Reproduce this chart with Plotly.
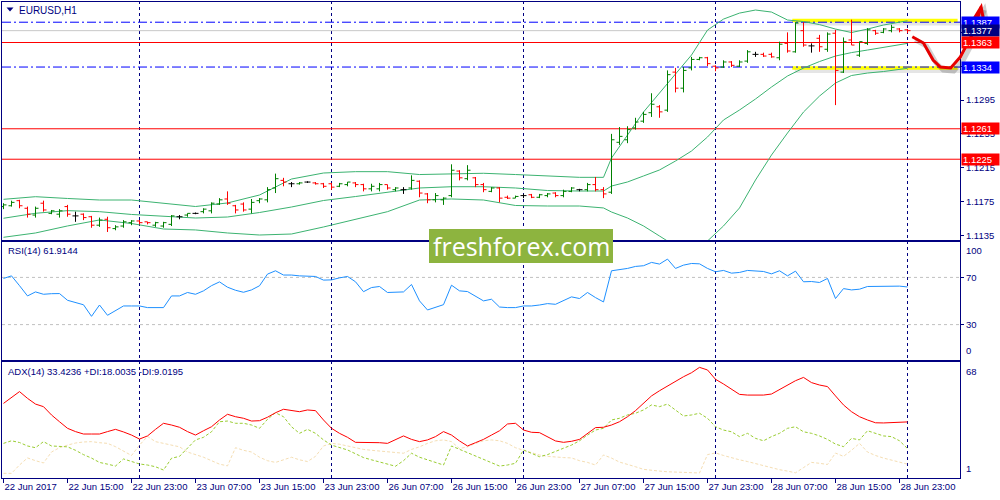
import plotly.graph_objects as go

# EURUSD H1, bar 0 = 22 Jun 2017 07:00 (one bar per hour, weekend skipped)
bar_open = [1.1169, 1.1170, 1.1176, 1.1167, 1.1159, 1.1173, 1.1161, 1.1160, 1.1169, 1.1158,
            1.1160, 1.1157, 1.1147, 1.1154, 1.1143, 1.1146, 1.1150, 1.1152, 1.1151, 1.1147,
            1.1146, 1.1148, 1.1157, 1.1159, 1.1161, 1.1163, 1.1164, 1.1172, 1.1178, 1.1170,
            1.1172, 1.1166, 1.1176, 1.1177, 1.1191, 1.1200, 1.1196, 1.1196, 1.1198, 1.1197,
            1.1196, 1.1196, 1.1193, 1.1195, 1.1197, 1.1195, 1.1190, 1.1190, 1.1195, 1.1189,
            1.1189, 1.1191, 1.1199, 1.1184, 1.1177, 1.1177, 1.1182, 1.1211, 1.1202, 1.1203,
            1.1195, 1.1187, 1.1191, 1.1180, 1.1179, 1.1182, 1.1183, 1.1180, 1.1182, 1.1185,
            1.1182, 1.1187, 1.1189, 1.1189, 1.1195, 1.1189, 1.1186, 1.1245, 1.1248, 1.1262,
            1.1270, 1.1280, 1.1287, 1.1283, 1.1328, 1.1309, 1.1333, 1.1343, 1.1345, 1.1335,
            1.1334, 1.1340, 1.1335, 1.1341, 1.1349, 1.1349, 1.1349, 1.1345, 1.1362, 1.1352,
            1.1377, 1.1359, 1.1368, 1.1355, 1.1374, 1.1328, 1.1366, 1.1348, 1.1362, 1.1377,
            1.1375, 1.1377, 1.1379, 1.1378]
bar_high = [1.1173, 1.1176, 1.1177, 1.1169, 1.1169, 1.1176, 1.1165, 1.1166, 1.1171, 1.1163,
            1.1161, 1.1158, 1.1156, 1.1157, 1.1147, 1.1153, 1.1153, 1.1153, 1.1151, 1.1151,
            1.1151, 1.1159, 1.1159, 1.1161, 1.1162, 1.1167, 1.1174, 1.1179, 1.1187, 1.1171,
            1.1174, 1.1178, 1.1179, 1.1192, 1.1208, 1.1203, 1.1198, 1.1198, 1.1199, 1.1198,
            1.1197, 1.1197, 1.1197, 1.1198, 1.1198, 1.1196, 1.1196, 1.1197, 1.1195, 1.1192,
            1.1192, 1.1206, 1.1200, 1.1185, 1.1185, 1.1180, 1.1219, 1.1212, 1.1218, 1.1204,
            1.1197, 1.1192, 1.1192, 1.1182, 1.1182, 1.1184, 1.1184, 1.1184, 1.1185, 1.1186,
            1.1189, 1.1192, 1.1190, 1.1197, 1.1204, 1.1192, 1.1255, 1.1263, 1.1264, 1.1274,
            1.1281, 1.1303, 1.1289, 1.1330, 1.1333, 1.1334, 1.1346, 1.1346, 1.1346, 1.1336,
            1.1342, 1.1341, 1.1342, 1.1354, 1.1352, 1.1351, 1.1351, 1.1364, 1.1375, 1.1387,
            1.1387, 1.1362, 1.1372, 1.1375, 1.1378, 1.1369, 1.1390, 1.1364, 1.1380, 1.1378,
            1.1380, 1.1384, 1.1380, 1.1379]
bar_low = [1.1166, 1.1169, 1.1167, 1.1156, 1.1156, 1.1163, 1.1160, 1.1156, 1.1157, 1.1151,
           1.1153, 1.1144, 1.1145, 1.1139, 1.1141, 1.1144, 1.1147, 1.1148, 1.1148, 1.1145,
           1.1144, 1.1146, 1.1154, 1.1157, 1.1160, 1.1161, 1.1161, 1.1171, 1.1171, 1.1161,
           1.1163, 1.1161, 1.1173, 1.1174, 1.1185, 1.1193, 1.1192, 1.1195, 1.1197, 1.1195,
           1.1191, 1.1189, 1.1192, 1.1193, 1.1192, 1.1187, 1.1187, 1.1187, 1.1189, 1.1187,
           1.1184, 1.1189, 1.1180, 1.1173, 1.1174, 1.1171, 1.1180, 1.1200, 1.1200, 1.1192,
           1.1186, 1.1186, 1.1174, 1.1178, 1.1179, 1.1179, 1.1179, 1.1179, 1.1180, 1.1180,
           1.1180, 1.1186, 1.1187, 1.1187, 1.1187, 1.1179, 1.1184, 1.1242, 1.1244, 1.1260,
           1.1268, 1.1275, 1.1274, 1.1281, 1.1304, 1.1304, 1.1330, 1.1342, 1.1335, 1.1329,
           1.1333, 1.1334, 1.1334, 1.1339, 1.1346, 1.1346, 1.1345, 1.1342, 1.1351, 1.1351,
           1.1358, 1.1351, 1.1352, 1.1352, 1.1289, 1.1327, 1.1360, 1.1346, 1.1360, 1.1372,
           1.1374, 1.1375, 1.1375, 1.1374]
bar_close = [1.1171, 1.1174, 1.1170, 1.1160, 1.1167, 1.1165, 1.1164, 1.1164, 1.1160, 1.1158,
             1.1156, 1.1147, 1.1153, 1.1144, 1.1145, 1.1151, 1.1152, 1.1150, 1.1150, 1.1150,
             1.1150, 1.1158, 1.1157, 1.1161, 1.1161, 1.1166, 1.1173, 1.1177, 1.1173, 1.1165,
             1.1165, 1.1174, 1.1178, 1.1189, 1.1202, 1.1198, 1.1196, 1.1197, 1.1198, 1.1196,
             1.1193, 1.1192, 1.1196, 1.1198, 1.1195, 1.1190, 1.1193, 1.1195, 1.1191, 1.1191,
             1.1189, 1.1200, 1.1185, 1.1177, 1.1182, 1.1179, 1.1212, 1.1203, 1.1212, 1.1195,
             1.1189, 1.1191, 1.1179, 1.1179, 1.1181, 1.1182, 1.1180, 1.1183, 1.1184, 1.1182,
             1.1187, 1.1191, 1.1189, 1.1195, 1.1189, 1.1184, 1.1248, 1.1252, 1.1260, 1.1269,
             1.1278, 1.1290, 1.1281, 1.1325, 1.1309, 1.1330, 1.1343, 1.1345, 1.1338, 1.1333,
             1.1340, 1.1336, 1.1340, 1.1352, 1.1349, 1.1347, 1.1346, 1.1361, 1.1353, 1.1386,
             1.1360, 1.1359, 1.1358, 1.1373, 1.1330, 1.1364, 1.1360, 1.1364, 1.1378, 1.1374,
             1.1379, 1.1381, 1.1377, 1.1377]

# Bollinger bands (20), read at these bars
bb_x = [0, 4, 8, 12, 16, 20, 24, 28, 32, 36, 40, 44, 48, 52, 56, 60, 64, 68, 72, 75,
        76, 78, 80, 82, 84, 86, 88, 90, 92, 94, 96, 98, 100, 102, 104, 106, 108, 110, 113]
bb_upper = [1.11776, 1.11807, 1.11786, 1.11768, 1.11768, 1.11733, 1.11691, 1.11733, 1.11827, 1.12016,
            1.12087, 1.12103, 1.12103, 1.12069, 1.12075, 1.12084, 1.12069, 1.12052, 1.12036, 1.12036,
            1.12264, 1.12536, 1.12808, 1.13033, 1.13257, 1.13482, 1.13777, 1.13907, 1.13978, 1.14014,
            1.1399, 1.13896, 1.13878, 1.13842, 1.13789, 1.13748, 1.13789, 1.13837, 1.13887]
bb_middle = [1.11552, 1.11611, 1.11642, 1.1163, 1.11597, 1.11573, 1.11555, 1.11567, 1.1162, 1.11685,
             1.11762, 1.11809, 1.11863, 1.1191, 1.11925, 1.11925, 1.1191, 1.1188, 1.11874, 1.11874,
             1.11933, 1.11981, 1.12052, 1.12123, 1.12229, 1.12347, 1.12513, 1.12714, 1.12832, 1.12962,
             1.13104, 1.13234, 1.13328, 1.13405, 1.1347, 1.13511, 1.13541, 1.13571, 1.1362]
bb_lower = [1.11327, 1.11378, 1.11461, 1.11532, 1.1149, 1.11425, 1.11414, 1.11378, 1.11354, 1.11366,
            1.11449, 1.11535, 1.1163, 1.11768, 1.1178, 1.11768, 1.11703, 1.11697, 1.11697, 1.11674,
            1.11626, 1.11555, 1.11461, 1.11342, 1.11224, 1.11177, 1.11283, 1.11461, 1.11674, 1.12004,
            1.123, 1.1256, 1.12808, 1.12997, 1.13151, 1.1324, 1.13269, 1.13287, 1.13325]

rsi = [69.1, 71.3, 63, 54.3, 57.7, 55.7, 56.2, 56.3, 50.6, 48.5,
       46.8, 37, 46.6, 37.9, 42.1, 45.8, 45.8, 45.8, 44.4, 44.4,
       44.4, 54.3, 54.3, 57.2, 55.7, 58.6, 63, 66.2, 61.7, 59.1,
       57.4, 59.4, 62.9, 72.8, 75.6, 72, 72, 71.3, 71.3, 70.8,
       67.7, 67.9, 69.6, 70.8, 66.3, 57.9, 61.4, 62.3, 57.2, 57.2,
       57.7, 64, 50.1, 42.4, 44.9, 46.9, 63.4, 58.6, 58, 54.3,
       50.1, 51.5, 44.9, 44.4, 44.4, 45.8, 45.8, 46.6, 47.8, 47.2,
       50.1, 53.5, 52.1, 57.2, 52.9, 49.2, 75.6, 76.5, 77.6, 79.3,
       79.9, 82.7, 81.3, 85.5, 77.6, 80.4, 81.8, 81.5, 77.6, 74.8,
       75.9, 73.6, 74.2, 75.9, 75.6, 75, 73, 75.6, 71.3, 75.3,
       66.3, 66.5, 65.7, 69.1, 52.1, 60.5, 59.4, 60, 62.3, 62.5,
       62.8, 62.8, 62.6, 61.9]

adx = [44.1, 47.6, 50.9, 47, 43.7, 42.2, 37.4, 33.5, 29.7, 27.8,
       26.4, 26.4, 26.4, 27.8, 29.1, 27.6, 25.8, 23.5, 25.3, 29.1,
       32.6, 31.6, 30.3, 27.8, 25.8, 28.3, 30.6, 34.5, 37.8, 36.4,
       35.5, 33.9, 34.1, 36.1, 38.7, 40.7, 39.9, 39.3, 40.3, 39.9,
       34.5, 29.7, 26.8, 24.5, 21.6, 21.6, 21.6, 21.4, 21, 23,
       25.3, 23.3, 22, 23, 24.9, 27.8, 25.8, 22.4, 19.5, 21.4,
       23.3, 25.8, 28.3, 32.2, 32.6, 28.7, 27.4, 27.2, 24.9, 22.4,
       21.6, 22.2, 23.3, 26.8, 30.1, 30.3, 31.6, 33.5, 36.4, 39.9,
       44.1, 48.4, 51.4, 54.1, 57.2, 59.5, 61.8, 64.9, 63.4, 58,
       55.3, 52.2, 49.3, 48.9, 48.9, 48.9, 49.5, 52.2, 54.7, 57.2,
       59.1, 56.1, 54.7, 53.8, 48.4, 43.2, 39.3, 36.4, 34.5, 32.9,
       32.8, 33.0, 33.2, 33.4]
plus_di = [21, 22.5, 21.5, 19.5, 18.5, 22, 19.5, 19.3, 19, 17,
           14.5, 12.5, 10, 9, 7.9, 12, 10.5, 9.1, 8.5, 7.5,
           5.6, 12.4, 13.5, 18, 23, 24.5, 27.7, 33.5, 33.9, 32.6,
           32.6, 31.6, 29.7, 34.9, 38.7, 36.4, 30.6, 26.8, 29.1, 26.8,
           23, 20, 18.5, 17.2, 15, 12.8, 11.5, 10.4, 9, 7.8,
           11, 15.3, 13, 11.4, 10, 8.5, 19.5, 17.5, 15.8, 13.5,
           11.5, 9.5, 7.9, 8.5, 9.5, 17.2, 15.3, 13.3, 14.5, 16.5,
           18.2, 20, 22.5, 25.8, 28.7, 29.7, 34.5, 35.5, 37.4, 38.4,
           40.3, 43.2, 42.2, 43.7, 40.3, 36.8, 37.4, 38.4, 35.5, 30.6,
           28.7, 27.7, 24.9, 26.8, 23.9, 22.5, 24.9, 26.8, 29.7, 30.6,
           27.7, 26.8, 25.3, 23.3, 20.6, 19.1, 23.9, 23, 28.3, 26.8,
           25.3, 24.9, 22.5, 18.0]
minus_di = [3.7, 3.7, 8.5, 12.6, 11, 9.7, 16, 18.5, 20, 21.2,
            21.8, 22, 21.4, 21, 19.1, 16.5, 14, 20, 25, 22,
            21, 20, 19, 16, 14.5, 13, 11, 9, 8, 18.5,
            17, 16, 13, 11, 10, 11.5, 13, 11.5, 10.5, 13.5,
            19.5, 21, 20.5, 19.5, 18.5, 17.5, 17, 16.5, 16.2, 15.4,
            15.3, 17.5, 19, 21, 22.5, 23, 22, 18, 19, 21,
            22.5, 23, 22.5, 21, 18.5, 17, 15.5, 14.3, 13.5, 13,
            12.8, 12.6, 11, 10, 8.5, 14.3, 12.5, 10.2, 9, 7.5,
            6, 5.3, 5, 4.6, 4.4, 4.2, 4, 3.9, 14.5, 15.5,
            14, 12.6, 11.5, 10.5, 9.3, 7.8, 6.8, 5.8, 5, 4,
            7, 10, 9.5, 8.8, 15.4, 13.5, 17, 21, 16, 14,
            12.5, 11.3, 10, 9.0]

tick_bars = [0, 8, 16, 24, 32, 40, 48, 56, 64, 72, 80, 88, 96, 104, 112]
tick_labels = ['22 Jun 2017', '22 Jun 15:00', '22 Jun 23:00', '23 Jun 07:00', '23 Jun 15:00',
               '23 Jun 23:00', '26 Jun 07:00', '26 Jun 15:00', '26 Jun 23:00', '27 Jun 07:00',
               '27 Jun 15:00', '27 Jun 23:00', '28 Jun 07:00', '28 Jun 15:00', '28 Jun 23:00']
day_starts = [17, 41, 65, 89, 113]

price_ticks = [1.1135, 1.1175, 1.1215, 1.1255, 1.1295, 1.1335, 1.1375]
blue_levels = [1.1387, 1.1334]
red_levels = [1.1363, 1.1261, 1.1225]
bid_level = 1.1377
range_top, range_bottom, range_start = 1.1389, 1.1333, 98.6
# hand drawn forecast arrow (bar, price)
arrow_path = [(113.6, 1.13698), (115.0, 1.13624), (116.2, 1.13423), (117.1, 1.1334),
              (118.4, 1.13328), (119.6, 1.13458), (121.2, 1.13742), (122.2, 1.1405)]
arrow_head = [(120.9, 1.13849), (122.2, 1.1405), (122.6, 1.13849)]

x_range = [-0.1875, 119.5625]
price_range = [1.11295, 1.14109]

NAVY = '#000080'
FONT = 'Liberation Sans'
n = len(bar_close)


def px_x(px):
    return (px - 2) / 958


def px_y(py):
    return (478 - py) / 476


def bar_x(b):
    return (b - x_range[0]) / (x_range[1] - x_range[0])


def bar_lines(idx):
    xs, ys = [], []
    for i in idx:
        xs += [i, i, None, i - 0.375, i, None, i, i + 0.375, None]
        ys += [bar_low[i], bar_high[i], None, bar_open[i], bar_open[i], None,
               bar_close[i], bar_close[i], None]
    return xs, ys


up = [i for i in range(n) if bar_close[i] > bar_open[i]]
down = [i for i in range(n) if bar_close[i] < bar_open[i]]
doji = [i for i in range(n) if bar_close[i] == bar_open[i]]

fig = go.Figure()

for band in (bb_upper, bb_middle, bb_lower):
    fig.add_trace(go.Scatter(x=bb_x, y=band, mode='lines',
                             line=dict(color='#3CB371', width=1), xaxis='x', yaxis='y'))

for idx, col in ((up, '#008000'), (down, '#FF0000'), (doji, '#000000')):
    xs, ys = bar_lines(idx)
    fig.add_trace(go.Scatter(x=xs, y=ys, mode='lines', line=dict(color=col, width=1),
                             xaxis='x', yaxis='y'))

bars = list(range(n))
fig.add_trace(go.Scatter(x=bars, y=rsi, mode='lines', line=dict(color='#1E90FF', width=1),
                         xaxis='x2', yaxis='y2'))
fig.add_trace(go.Scatter(x=bars, y=minus_di, mode='lines',
                         line=dict(color='#F5DEB3', width=1, dash='3px,2px'), xaxis='x3', yaxis='y3'))
fig.add_trace(go.Scatter(x=bars, y=plus_di, mode='lines',
                         line=dict(color='#9ACD32', width=1, dash='3px,2px'), xaxis='x3', yaxis='y3'))
fig.add_trace(go.Scatter(x=bars, y=adx, mode='lines', line=dict(color='#FF0000', width=1),
                         xaxis='x3', yaxis='y3'))

shapes = []
for d in day_starts:
    shapes.append(dict(type='line', xref='x', yref='paper', x0=d, x1=d, y0=0, y1=1,
                       line=dict(color=NAVY, width=1, dash='3px,3px'), layer='below'))
for lv in (30, 70):
    shapes.append(dict(type='line', xref='x2', yref='y2', x0=x_range[0], x1=x_range[1], y0=lv, y1=lv,
                       line=dict(color='#C0C0C0', width=1, dash='3px,3px'), layer='below'))
shapes.append(dict(type='line', xref='x', yref='y', x0=x_range[0], x1=x_range[1],
                   y0=bid_level, y1=bid_level, line=dict(color='#C8C8C8', width=1), layer='below'))
for lv in red_levels:
    shapes.append(dict(type='line', xref='x', yref='y', x0=x_range[0], x1=x_range[1], y0=lv, y1=lv,
                       line=dict(color='#FF0000', width=1), layer='below'))

# yellow range lines with a soft shadow
p_per_px = (price_range[1] - price_range[0]) / 238
for lv in (range_top, range_bottom):
    shapes.append(dict(type='line', xref='x', yref='y', x0=range_start + 0.3, x1=x_range[1],
                       y0=lv - 3 * p_per_px, y1=lv - 3 * p_per_px,
                       line=dict(color='rgba(0,0,0,0.1)', width=4), layer='below'))
    shapes.append(dict(type='line', xref='x', yref='y', x0=range_start, x1=x_range[1] - 0.3, y0=lv, y1=lv,
                       line=dict(color='#FFFF00', width=3.5), layer='below'))
for lv in blue_levels:
    shapes.append(dict(type='line', xref='x', yref='y', x0=x_range[0], x1=x_range[1], y0=lv, y1=lv,
                       line=dict(color='#0000FF', width=1, dash='9px,3px,2px,3px'), layer='below'))


def path_str(pts, dx=0.0, dy=0.0):
    return 'M ' + ' L '.join(f'{bar_x(b) + dx:.5f},{p + dy:.6f}' for b, p in pts)


sdx, sdy = 3 / 958, -3 * p_per_px
for pts in (arrow_path, arrow_head):
    shapes.append(dict(type='path', xref='paper', yref='y', path=path_str(pts, sdx, sdy),
                       line=dict(color='rgba(0,0,0,0.18)', width=5)))
for pts in (arrow_path, arrow_head):
    shapes.append(dict(type='path', xref='paper', yref='y', path=path_str(pts),
                       line=dict(color='#E60000', width=3)))

# watermark box and the small menu triangle
shapes.append(dict(type='rect', xref='paper', yref='paper', x0=px_x(429), x1=px_x(613),
                   y0=px_y(263), y1=px_y(229), fillcolor='#8DB43F', line=dict(width=0)))
shapes.append(dict(type='path', xref='paper', yref='paper',
                   path=f'M {px_x(6.5)},{px_y(7.5)} L {px_x(13.5)},{px_y(7.5)} L {px_x(10)},{px_y(11.5)} Z',
                   fillcolor=NAVY, line=dict(width=0)))

ann = []
ann.append(dict(xref='paper', yref='paper', x=px_x(521), y=px_y(246), yanchor='middle',
                text='freshforex.com', showarrow=False,
                font=dict(family='Open Sans', size=25, color='white')))
ann.append(dict(xref='paper', yref='paper', x=px_x(17), y=px_y(10), xanchor='left', yanchor='middle',
                text='EURUSD,H1', showarrow=False, font=dict(family=FONT, size=10, color=NAVY)))
ann.append(dict(xref='paper', yref='paper', x=px_x(6), y=px_y(251), xanchor='left', yanchor='middle',
                text='RSI(14) 61.9144', showarrow=False, font=dict(family=FONT, size=9.5, color=NAVY)))
ann.append(dict(xref='paper', yref='paper', x=px_x(6), y=px_y(371), xanchor='left', yanchor='middle',
                text='ADX(14) 33.4236 +DI:18.0035 -DI:9.0195',
                showarrow=False, font=dict(family=FONT, size=9.5, color=NAVY)))

price_tags = [(1.1387, '#0000FF'), (bid_level, '#000080'), (1.1363, '#FF0000'),
              (1.1334, '#0000FF'), (1.1261, '#FF0000'), (1.1225, '#FF0000')]
for val, bg in price_tags:
    ann.append(dict(xref='paper', yref='y', x=1, y=val, xanchor='left', xshift=1, yanchor='middle',
                    text=f'{val:.4f}', showarrow=False, bgcolor=bg, borderpad=1, width=35, height=9,
                    align='left', font=dict(family=FONT, size=9.5, color='white')))

for axis, val, anchor, shift, txt in (('y2', 100, 'top', -1, '100'), ('y2', 0, 'bottom', 2, '0'),
                                      ('y3', 68, 'top', -2, '68'), ('y3', 1, 'bottom', 2, '1')):
    ann.append(dict(xref='paper', yref=axis, x=1, y=val, xanchor='left', xshift=4, yanchor=anchor,
                    yshift=shift, text=txt, showarrow=False, font=dict(family=FONT, size=9.5, color=NAVY)))

frame = dict(showline=True, mirror=True, linecolor=NAVY, linewidth=1, showgrid=False, zeroline=False)

fig.update_layout(
    width=1000, height=500,
    margin=dict(l=2, r=40, t=2, b=22),
    paper_bgcolor='white', plot_bgcolor='rgba(0,0,0,0)',
    showlegend=False, hovermode=False,
    font=dict(family=FONT, size=9.5, color=NAVY),
    xaxis=dict(domain=[0, 1], range=x_range, anchor='y', showticklabels=False, ticks='', **frame),
    xaxis2=dict(domain=[0, 1], range=x_range, anchor='y2', showticklabels=False, ticks='', **frame),
    xaxis3=dict(domain=[0, 1], range=x_range, anchor='y3', tickvals=tick_bars, ticktext=tick_labels,
                ticks='outside', ticklen=4, tickcolor=NAVY, ticklabelposition='outside right',
                tickfont=dict(family=FONT, size=9.5, color=NAVY), **frame),
    yaxis=dict(domain=[0.5, 1], range=price_range, anchor='x', side='right', tickvals=price_ticks,
               tickformat='.4f', ticks='outside', ticklen=3, tickcolor=NAVY,
               tickfont=dict(family=FONT, size=9.5, color=NAVY), **frame),
    yaxis2=dict(domain=[0.2479, 0.4958], range=[0, 100], anchor='x2', side='right', tickvals=[70, 30],
                ticks='outside', ticklen=3, tickcolor=NAVY,
                tickfont=dict(family=FONT, size=9.5, color=NAVY), **frame),
    yaxis3=dict(domain=[0, 0.2437], range=[1, 68], anchor='x3', side='right', showticklabels=False,
                ticks='', **frame),
    shapes=shapes,
    annotations=ann,
)

fig.write_html('out.html', config={'displayModeBar': False},
               post_script="document.body.style.margin='0';document.body.style.overflow='hidden';")
